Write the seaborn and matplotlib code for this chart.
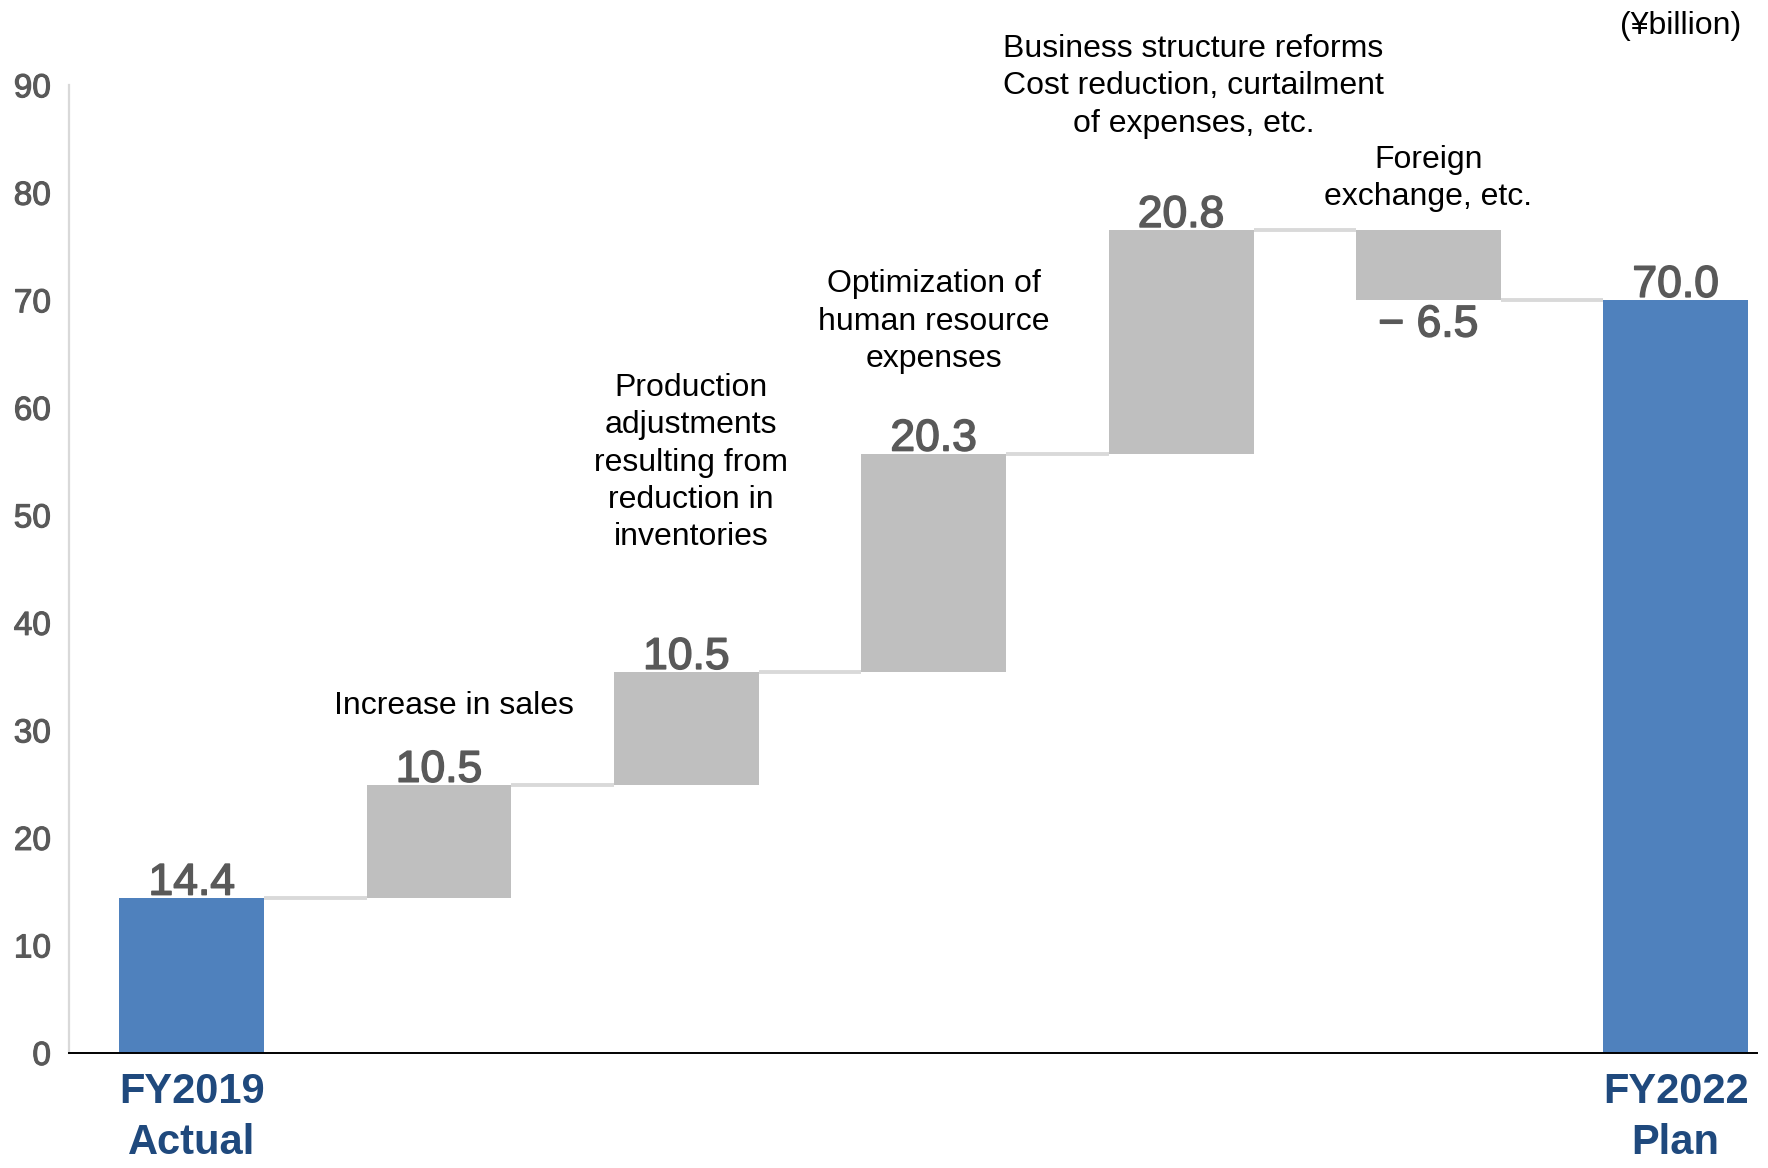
import numpy as np
import pandas as pd
import matplotlib
matplotlib.use("Agg")
import matplotlib.pyplot as plt
import matplotlib.patheffects as pe
import seaborn as sns

# waterfall data (¥billion)
steps = ["FY2019 Actual", "Increase in sales", "Production adjustments",
         "Optimization of human resource", "Business structure reforms",
         "Foreign exchange", "FY2022 Plan"]
values = [14.4, 10.5, 10.5, 20.3, 20.8, -6.5, 70.0]
is_total = [True, False, False, False, False, False, True]
value_labels = ["14.4", "10.5", "10.5", "20.3", "20.8", "− 6.5", "70.0"]
notes = ["", "Increase in sales",
         "Production\nadjustments\nresulting from\nreduction in\ninventories",
         "Optimization of\nhuman resource\nexpenses",
         "Business structure reforms\nCost reduction, curtailment\nof expenses, etc.",
         "Foreign\nexchange, etc.", ""]
note_x = [0, 1.06, 2.02, 3.0, 4.05, 5.0, 6]
note_y = [0, 32.3, 54.9, 68.0, 89.9, 81.3, 0]
tick_labels = ["FY2019\nActual", "FY2022\nPlan"]

sns.set_style("white")
plt.rcParams['font.family'] = ['Liberation Sans', 'DejaVu Sans']

# bottoms / heights for waterfall
bottoms, heights, levels = [], [], []
run = 0.0
for v, tot in zip(values, is_total):
    if tot:
        bottoms.append(0.0)
        heights.append(v)
        run = v
    else:
        bottoms.append(run)
        heights.append(v)
        run = run + v
    levels.append(run)

df = pd.DataFrame({"step": steps, "height": heights})

fig = plt.figure(figsize=(17.68, 11.68), dpi=100)
ax = fig.add_axes([0.039, 0.0985, 0.9547, 0.8285])

W = 0.586
sns.barplot(data=df, x="step", y="height", order=steps, bottom=bottoms,
            color="#bfbfbf", saturation=1, width=W, linewidth=0, ax=ax)
for p, tot in zip(ax.patches, is_total):
    p.set_facecolor("#4f81bd" if tot else "#bfbfbf")
    p.set_edgecolor("none")

# connectors
for i in range(len(steps) - 1):
    ax.plot([i + W / 2, i + 1 - W / 2], [levels[i], levels[i]],
            color="#d9d9d9", lw=2.8, solid_capstyle="butt", zorder=1)

# value labels (slightly heavier than regular)
heavy = [pe.withStroke(linewidth=1.1, foreground="#595959")]
for i, (b, h, lab) in enumerate(zip(bottoms, heights, value_labels)):
    if h >= 0:
        ax.annotate(lab, (i, b + h), xytext=(0, 2.5), textcoords="offset points",
                    ha="center", va="baseline", fontsize=32, color="#595959",
                    path_effects=heavy)
    else:
        ax.annotate(lab, (i, b + h), xytext=(0, -3), textcoords="offset points",
                    ha="center", va="top", fontsize=32, color="#595959",
                    path_effects=heavy)

# notes
for x, y, t in zip(note_x, note_y, notes):
    if t:
        ax.text(x, y, t, ha="center", va="center", fontsize=23,
                color="black", multialignment="center", linespacing=1.32)

ax.set_ylim(0, 90)
ax.set_xlim(-0.496, 6.328)
ax.set_yticks(np.arange(0, 91, 10))
ax.tick_params(axis="y", length=0, pad=13, labelsize=24, labelcolor="#595959")
for t in ax.get_yticklabels():
    t.set_path_effects([pe.withStroke(linewidth=0.8, foreground="#595959")])
ax.set_xticks([0, 6])
ax.set_xticklabels(tick_labels, fontsize=30, fontweight="bold", color="#1f497d",
                   linespacing=1.35)
ax.tick_params(axis="x", length=0, pad=14)
ax.set_xlabel("")
ax.set_ylabel("")

for s in ["top", "right"]:
    ax.spines[s].set_visible(False)
ax.spines["left"].set_color("#d9d9d9")
ax.spines["left"].set_linewidth(1.6)
ax.spines["bottom"].set_color("black")
ax.spines["bottom"].set_linewidth(1.4)
ax.spines["bottom"].set_zorder(5)

fig.text(0.985, 0.978, "(¥billion)", ha="right", va="center", fontsize=23,
         color="black")

fig.savefig("out.png", dpi=100)
